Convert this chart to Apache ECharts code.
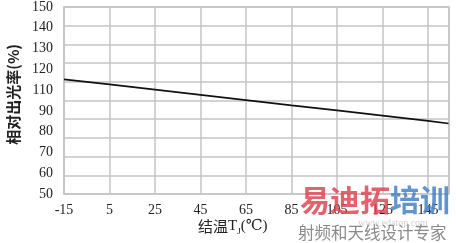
<!DOCTYPE html>
<html><head><meta charset="utf-8">
<script src="https://cdn.jsdelivr.net/npm/echarts@6/dist/echarts.min.js"></script>
<style>html,body{margin:0;padding:0;background:#fff}#c{width:456px;height:243px}</style>
</head><body><div id="c"></div>
<script>
// x values (junction temperature, °C) and relative light output
const temps = [-15, 5, 25, 45, 65, 85, 105, 125, 145, 154];
const output = [111.3, 108.6, 105.8, 103.0, 100.2, 97.4, 94.7, 91.9, 89.1, 87.7];
// y tick labels as printed (note: the original has no "100")
const yLabels = ['50','60','70','80','90','110','120','130','140','150'];
const xTicks = [-15, 5, 25, 45, 65, 85, 105, 125, 145];
const xOffset = 15; // axis runs from -15; shifted so ticks start at a multiple of the interval

const chart = echarts.init(document.getElementById('c'));
const serif = '"Liberation Serif", "DejaVu Serif", serif';
const grey = '#c4c4c4';
chart.setOption({
  animation: false,
  grid: {left: 64, right: 7, top: 3, bottom: 49, show: true, borderColor: grey, borderWidth: 1.5},
  xAxis: {
    type: 'value', min: 0, max: 169.2, interval: 20,
    axisLine: {show: false}, axisTick: {show: false},
    splitLine: {lineStyle: {color: grey, width: 1.5}},
    axisLabel: {margin: 9, fontFamily: serif, fontSize: 14, color: '#222', showMaxLabel: false,
      formatter: v => { const t = Math.round(v - xOffset); return xTicks.includes(t) ? String(t) : ''; }}
  },
  yAxis: [{
    type: 'value', min: 50, max: 150, interval: 10,
    axisLine: {show: true, lineStyle: {color: grey, width: 1.5}}, axisTick: {show: false},
    splitLine: {lineStyle: {color: grey, width: 1.5}},
    axisLabel: {show: false}
  }, {
    type: 'value', position: 'left', min: 0, max: 9, interval: 1,
    axisLine: {show: false}, axisTick: {show: false}, splitLine: {show: false},
    axisLabel: {margin: 11, fontFamily: serif, fontSize: 14, color: '#222',
      formatter: v => yLabels[Math.round(v)] || ''}
  }],
  series: [{
    type: 'line', yAxisIndex: 0, showSymbol: false, silent: true,
    data: temps.map((t, i) => [t + xOffset, output[i]]),
    lineStyle: {color: '#111', width: 1.6}
  }],
  graphic: [
    {type: 'text', left: 6, top: 44, rotation: Math.PI / 2, originX: 0, originY: 0,
     style: {text: '相对出光率(%)', font: 'bold 15px "Noto Sans CJK SC"', fill: '#222'}},
    {type: 'text', left: 198, top: 219,
     style: {rich: {a: {font: '15px "Noto Sans CJK SC"', fill: '#222'},
                    b: {font: '15px ' + serif, fill: '#222'},
                    s: {font: '9px ' + serif, fill: '#222', verticalAlign: 'bottom', padding: [10, 0, 0, 0]}},
             text: '{a|结温}{b|T}{s|J}{b|(℃)}'}},
    {type: 'text', left: 300, top: 185, z: 10,
     style: {rich: {r: {font: 'bold 30px "Noto Sans CJK SC"', fill: 'rgba(222,70,85,0.85)'},
                    u: {font: 'bold 30px "Noto Sans CJK SC"', fill: 'rgba(70,130,200,0.85)'}},
             text: '{r|易迪拓}{u|培训}'}},
    {type: 'text', left: 298, top: 224, z: 10,
     style: {text: '射频和天线设计专家', font: '16.5px "Noto Sans CJK SC"', fill: '#8a8a8a'}},
    {type: 'text', left: 358, top: 218, z: 9,
     style: {text: 'www.edatop.com', font: '10px ' + serif, fill: 'rgba(150,150,150,0.45)'}}
  ]
});
</script></body></html>
